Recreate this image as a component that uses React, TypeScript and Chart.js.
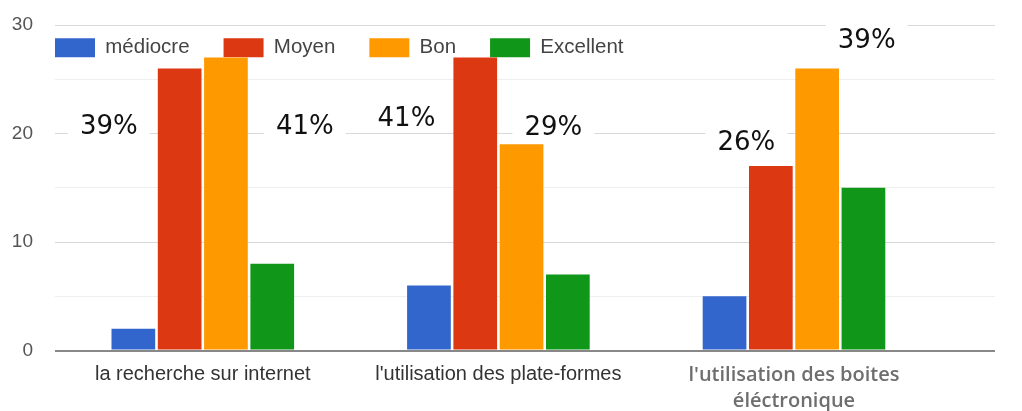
import { useEffect, useRef } from 'react';
import { Chart, registerables } from 'chart.js';

Chart.register(...registerables);

const CATEGORIES: (string | string[])[] = [
  'la recherche sur internet',
  "l'utilisation des plate-formes",
  ["l'utilisation des boites", 'éléctronique'],
];
const SERIES_NAMES = ['médiocre', 'Moyen', 'Bon', 'Excellent'];
const MEDIOCRE = [2, 6, 5];
const MOYEN = [26, 27, 17];
const BON = [27, 19, 26];
const EXCELLENT = [8, 7, 15];
const Y_TICK_LABELS = [0, 10, 20, 30];

const PERCENT_TEXTS = ['39%', '41%', '41%', '29%', '26%', '39%'];
const PERCENT_AT_CATEGORY = [-0.318, 0.345, 0.689, 1.186, 1.839, 2.246];
const PERCENT_AT_VALUE = [20.8, 20.8, 21.6, 20.7, 19.4, 28.8];

const COLORS = ['#3366cc', '#dc3912', '#ff9900', '#109618'];
const SERIES = [MEDIOCRE, MOYEN, BON, EXCELLENT];

const LEGEND_PAD = 34;

const legendShift = {
  id: 'legendShift',
  beforeLayout(chart: any) {
    const l = chart.legend;
    if (l) l.isHorizontal = () => true;
  },
  afterLayout(chart: any) {
    const l = chart.legend;
    if (!l) return;
    l.left = chart.chartArea.left - LEGEND_PAD;
    l.top = 37.5 - LEGEND_PAD;
  },
};

const percentLabels = {
  id: 'percentLabels',
  beforeDatasetsDraw(chart: any) {
    const { ctx, scales } = chart;
    ctx.save();
    ctx.font = '26px "DejaVu Sans"';
    PERCENT_TEXTS.forEach((t, i) => {
      const x = scales.x.getPixelForValue(PERCENT_AT_CATEGORY[i]);
      const y = scales.y.getPixelForValue(PERCENT_AT_VALUE[i]);
      const w = ctx.measureText(t).width;
      ctx.fillStyle = '#ffffff';
      ctx.fillRect(x - w / 2 - 12, y - 9.5 - 8, w + 24, 19 + 12);
      ctx.fillStyle = '#111111';
      ctx.textAlign = 'center';
      ctx.textBaseline = 'alphabetic';
      ctx.fillText(t, x, y + 9.5);
    });
    ctx.restore();
  },
};

export default function App() {
  const ref = useRef<HTMLCanvasElement | null>(null);
  useEffect(() => {
    if (!ref.current) return;
    const chart = new Chart(ref.current, {
      type: 'bar',
      data: {
        datasets: SERIES.map((vals, s) => ({
          label: SERIES_NAMES[s],
          data: vals.map((v, i) => ({ x: i, y: v })),
          backgroundColor: COLORS[s],
          borderWidth: 0,
          categoryPercentage: 0.6265,
          barPercentage: 0.944,
        })),
      },
      options: {
        animation: false,
        responsive: false,
        maintainAspectRatio: false,
        layout: { padding: { left: 0, right: 27, top: 25, bottom: 0 } },
        plugins: {
          tooltip: { enabled: false },
          legend: {
            position: 'chartArea',
            align: 'start',
            labels: {
              boxWidth: 40,
              boxHeight: 19,
              padding: LEGEND_PAD,
              color: '#444444',
              font: { family: '"Liberation Sans", Arial, sans-serif', size: 20.5 },
            },
          },
        },
        scales: {
          x: {
            type: 'linear',
            min: -0.5,
            max: 2.68,
            offset: false,
            grid: { display: false, drawTicks: false, offset: false },
            border: { display: false },
            afterBuildTicks: (axis: any) => {
              axis.ticks = CATEGORIES.map((_, i) => ({ value: i }));
            },
            afterFit: (axis: any) => {
              axis.height = 60.5;
              axis.paddingLeft = 0;
              axis.paddingRight = 0;
            },
            ticks: {
              autoSkip: false,
              maxRotation: 0,
              minRotation: 0,
              padding: 12,
              callback: (value: any) => CATEGORIES[Number(value)] ?? '',
              color: (ctx: any) => (ctx.index === 2 ? '#6e6e6e' : '#333333'),
              font: (ctx: any) =>
                ctx.index === 2
                  ? { family: '"Open Sans", sans-serif', size: 20, weight: '600', lineHeight: 1.3 }
                  : { family: '"Liberation Sans", Arial, sans-serif', size: 20, lineHeight: 1.2 },
            },
          },
          y: {
            min: 0,
            max: 30,
            afterFit: (axis: any) => {
              axis.width = 55;
              axis.paddingTop = 0;
              axis.paddingBottom = 0;
            },
            border: { display: false },
            grid: {
              drawTicks: false,
              color: (ctx: any) => {
                const v = ctx.tick?.value;
                if (v === 0) return '#888888';
                return v % 10 === 0 ? '#d9d9d9' : '#efefef';
              },
              lineWidth: (ctx: any) => (ctx.tick?.value === 0 ? 2 : 1),
            },
            ticks: {
              stepSize: 5,
              padding: 22,
              color: '#555555',
              font: { family: '"Liberation Sans", Arial, sans-serif', size: 19 },
              callback: (value: any) => (Y_TICK_LABELS.includes(Number(value)) ? String(value) : ''),
            },
          },
        },
      },
      plugins: [legendShift, percentLabels],
    } as any);
    return () => chart.destroy();
  }, []);
  return (
    <div style={{ position: 'absolute', left: 0, top: 0, width: 1022, height: 411, background: '#fff' }}>
      <canvas ref={ref} width={1022} height={411} />
    </div>
  );
}
